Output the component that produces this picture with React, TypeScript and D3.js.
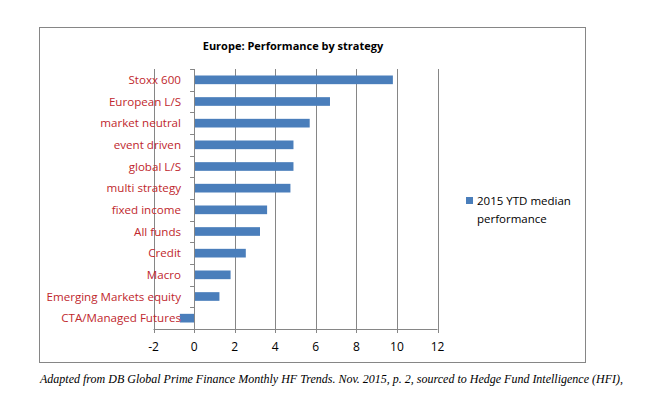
import React from "react";
import * as d3 from "d3";

const categories = [
  "Stoxx 600",
  "European L/S",
  "market neutral",
  "event driven",
  "global L/S",
  "multi strategy",
  "fixed income",
  "All funds",
  "Credit",
  "Macro",
  "Emerging Markets equity",
  "CTA/Managed Futures",
];
const values = [9.8, 6.7, 5.7, 4.9, 4.9, 4.75, 3.6, 3.25, 2.55, 1.8, 1.25, -0.7];
const xTicks = [-2, 0, 2, 4, 6, 8, 10, 12];
const title = "Europe: Performance by strategy";
const legendLines = ["2015 YTD median", "performance"];
const footer =
  "Adapted from DB Global Prime Finance Monthly HF Trends. Nov. 2015, p. 2, sourced to Hedge Fund Intelligence (HFI),";

export default function App() {
  const W = 667, H = 410;
  const left = 153.5, right = 437.5, top = 69, bottom = 329;
  const x = d3.scaleLinear().domain([-2, 12]).range([left, right]);
  const y = d3.scaleBand<string>().domain(categories).range([top, bottom]).paddingInner(0.6).paddingOuter(0.3);
  const yb = d3.scaleBand<string>().domain(categories).range([top, bottom]);
  const font = "'Open Sans', 'Noto Sans', sans-serif";
  const grid = "#868686";
  return (
    <svg width={W} height={H} style={{ position: "absolute", left: 0, top: 0, background: "#fff" }}>
      <rect x={39.5} y={27.5} width={546} height={335} fill="#fff" stroke="#868686" strokeWidth={1} />
      <text x={293} y={50} textAnchor="middle" fontFamily={font} fontWeight="bold" fontSize={11} fill="#000">
        {title}
      </text>
      {xTicks.map((t) => (
        <line key={t} x1={Math.round(x(t)) + 0.5} x2={Math.round(x(t)) + 0.5} y1={top} y2={bottom} stroke={grid} strokeWidth={1} />
      ))}
      <line x1={left} x2={right} y1={bottom + 0.5} y2={bottom + 0.5} stroke={grid} />
      {xTicks.map((t) => (
        <line key={"t" + t} x1={Math.round(x(t)) + 0.5} x2={Math.round(x(t)) + 0.5} y1={bottom} y2={bottom + 4} stroke={grid} />
      ))}
      {xTicks.map((t) => (
        <text key={"l" + t} x={x(t)} y={bottom + 22} textAnchor="middle" fontFamily={font} fontSize={12} fill="#000">
          {t}
        </text>
      ))}
      {categories.map((c, i) => (
        <rect
          key={c}
          x={x(Math.min(0, values[i]))}
          y={(y(c) as number)}
          width={Math.abs(x(values[i]) - x(0))}
          height={y.bandwidth()}
          fill="#4a7ebb"
        />
      ))}
      <line x1={Math.round(x(0)) + 0.5} x2={Math.round(x(0)) + 0.5} y1={top} y2={bottom} stroke={grid} />
      {categories.concat(["_end"]).map((c, i) => {
        const yy = Math.round(top + i * yb.step()) + 0.5;
        return <line key={"yt" + i} x1={x(0) - 4} x2={x(0)} y1={yy} y2={yy} stroke={grid} />;
      })}
      {categories.map((c) => (
        <text
          key={"c" + c}
          x={181}
          y={(yb(c) as number) + yb.bandwidth() / 2 + 4}
          textAnchor="end"
          fontFamily={font}
          fontSize={11.6}
          fill="#c0272d"
        >
          {c}
        </text>
      ))}
      <rect x={466} y={197} width={7} height={7} fill="#4a7ebb" />
      {legendLines.map((l, i) => (
        <text key={l} x={477} y={205 + i * 18} fontFamily={font} fontSize={11.5} fill="#000">
          {l}
        </text>
      ))}
      <text x={40} y={383} fontFamily="'Liberation Serif', serif" fontStyle="italic" fontSize={12} fill="#000">
        {footer}
      </text>
    </svg>
  );
}
